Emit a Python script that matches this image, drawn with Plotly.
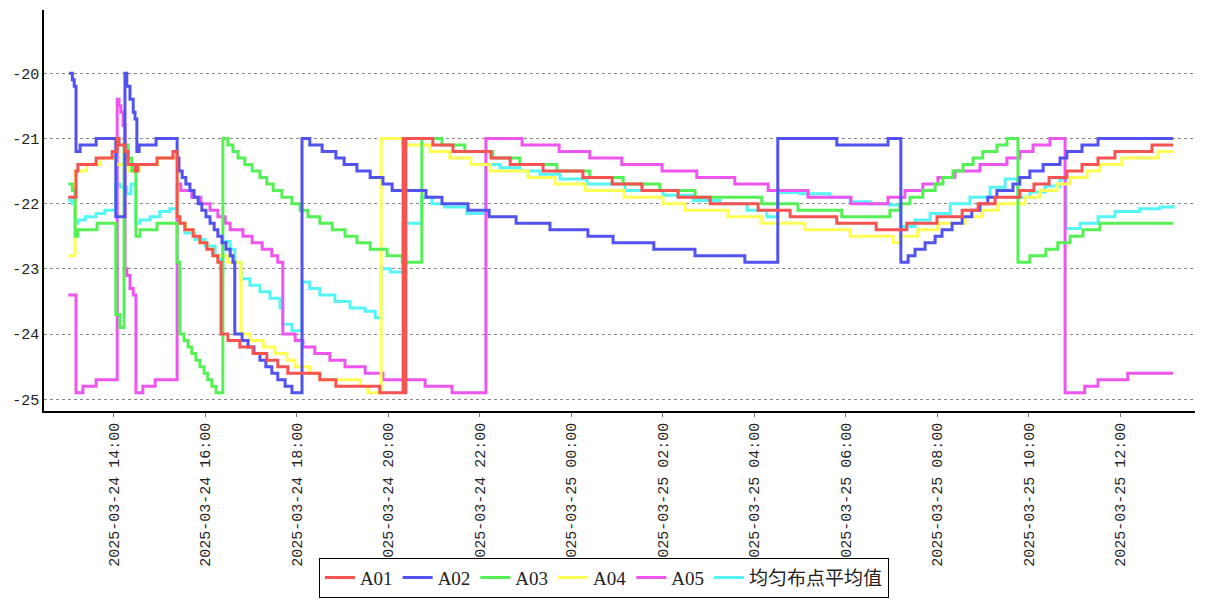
import pandas as pd
import plotly.graph_objects as go

BASE = pd.Timestamp("2025-03-24 00:00")

# time of each step, in hours since 2025-03-24 00:00, and the value that starts there
A01_h = [13.00, 13.17, 13.21, 13.61, 13.96, 14.07, 14.11, 14.24, 14.31, 14.46, 14.52, 14.94, 15.29, 15.38, 15.44, 15.55,
         15.73, 15.88, 16.03, 16.16, 16.27, 16.34, 16.49, 16.75, 17.04, 17.34, 17.58, 17.80, 18.50, 18.85, 19.81, 20.32,
         20.35, 20.38, 20.97, 21.41, 22.24, 22.66, 23.38, 24.25, 24.89, 25.54, 26.33, 27.03, 28.08, 28.78, 29.80, 30.66,
         31.33, 31.99, 32.54, 32.89, 33.26, 33.80, 34.11, 34.44, 34.83, 35.16, 35.51, 35.88, 36.69, 37.15]
A01_v = [-21.9, -21.5, -21.4, -21.3, -21.2, -21.0, -21.1, -21.2, -21.4, -21.5, -21.4, -21.3, -21.2, -22.2, -22.3, -22.4,
         -22.5, -22.6, -22.7, -22.8, -22.9, -24.0, -24.1, -24.2, -24.3, -24.4, -24.5, -24.6, -24.7, -24.8, -24.9, -21.0,
         -24.9, -21.0, -21.1, -21.2, -21.3, -21.4, -21.5, -21.6, -21.7, -21.8, -21.9, -22.0, -22.1, -22.2, -22.3, -22.4,
         -22.3, -22.2, -22.1, -22.0, -21.9, -21.8, -21.7, -21.6, -21.5, -21.4, -21.3, -21.2, -21.1, -21.1]

A02_h = [13.02, 13.09, 13.13, 13.17, 13.26, 13.61, 14.04, 14.24, 14.28, 14.35, 14.42, 14.46, 14.50, 14.55, 14.92, 15.38,
         15.42, 15.49, 15.57, 15.66, 15.75, 15.84, 15.92, 16.01, 16.10, 16.19, 16.27, 16.36, 16.45, 16.54, 16.60, 16.64,
         16.80, 16.93, 17.06, 17.19, 17.32, 17.45, 17.58, 17.74, 17.89, 18.11, 18.28, 18.55, 18.85, 19.03, 19.31, 19.60,
         19.88, 20.08, 20.82, 21.17, 21.74, 22.20, 22.79, 23.53, 24.36, 24.91, 25.80, 26.70, 27.79, 28.51, 29.80, 30.92,
         31.20, 31.36, 31.51, 31.73, 31.95, 32.10, 32.32, 32.54, 32.75, 32.93, 33.10, 33.30, 33.65, 33.80, 34.02, 34.31,
         34.68, 34.83, 35.16, 35.51, 37.15]
A02_v = [-20.0, -20.1, -20.2, -21.2, -21.1, -21.0, -22.2, -20.0, -20.2, -20.4, -20.6, -20.7, -21.2, -21.1, -21.0, -21.3,
         -21.5, -21.6, -21.7, -21.8, -21.9, -22.0, -22.1, -22.2, -22.3, -22.4, -22.5, -22.6, -22.7, -22.8, -22.9, -24.0,
         -24.1, -24.2, -24.3, -24.4, -24.5, -24.6, -24.7, -24.8, -24.9, -21.0, -21.1, -21.2, -21.3, -21.4, -21.5, -21.6,
         -21.7, -21.8, -21.9, -22.0, -22.1, -22.2, -22.3, -22.4, -22.5, -22.6, -22.7, -22.8, -22.9, -21.0, -21.1, -21.0,
         -22.9, -22.8, -22.7, -22.6, -22.5, -22.4, -22.3, -22.2, -22.1, -22.0, -21.9, -21.8, -21.7, -21.6, -21.5, -21.4,
         -21.3, -21.2, -21.1, -21.0, -21.0]

A03_h = [13.00, 13.09, 13.15, 13.21, 13.63, 14.04, 14.13, 14.22, 14.31, 14.39, 14.48, 14.57, 14.94, 15.38, 15.44, 15.53,
         15.62, 15.70, 15.79, 15.88, 15.97, 16.05, 16.14, 16.23, 16.38, 16.49, 16.60, 16.71, 16.86, 17.02, 17.19, 17.34,
         17.48, 17.67, 17.89, 18.07, 18.24, 18.50, 18.77, 19.05, 19.31, 19.60, 19.97, 20.30, 20.73, 21.17, 21.67, 22.28,
         22.87, 23.68, 24.40, 25.13, 25.93, 26.70, 28.16, 28.95, 29.91, 30.96, 31.18, 31.40, 31.68, 31.95, 32.12, 32.34,
         32.56, 32.78, 32.99, 33.30, 33.52, 33.76, 34.02, 34.37, 34.63, 34.90, 35.18, 35.55, 37.15]
A03_v = [-21.7, -21.8, -22.5, -22.4, -22.3, -23.7, -23.9, -21.1, -21.3, -21.5, -22.5, -22.4, -22.3, -22.9, -24.0, -24.1,
         -24.2, -24.3, -24.4, -24.5, -24.6, -24.7, -24.8, -24.9, -21.0, -21.1, -21.2, -21.3, -21.4, -21.5, -21.6, -21.7,
         -21.8, -21.9, -22.0, -22.1, -22.2, -22.3, -22.4, -22.5, -22.6, -22.7, -22.8, -22.9, -21.0, -21.1, -21.2, -21.3,
         -21.4, -21.5, -21.6, -21.7, -21.8, -21.9, -22.0, -22.1, -22.2, -22.1, -22.0, -21.9, -21.8, -21.7, -21.6, -21.5,
         -21.4, -21.3, -21.2, -21.1, -21.0, -22.9, -22.8, -22.7, -22.6, -22.5, -22.4, -22.3, -22.3]

A04_h = [13.00, 13.15, 13.40, 13.70, 14.04, 14.30, 14.55, 14.95, 15.38, 15.44, 15.57, 15.73, 15.88, 16.03, 16.16, 16.49,
         16.78, 16.97, 17.26, 17.52, 17.78, 17.96, 18.28, 18.50, 19.38, 19.55, 19.84, 20.30, 20.91, 21.34, 21.80, 22.22,
         23.05, 23.64, 24.30, 25.15, 26.00, 26.48, 27.42, 28.16, 29.10, 30.09, 31.03, 31.18, 31.57, 32.01, 32.60, 32.97,
         33.32, 33.91, 34.24, 34.61, 34.90, 35.27, 35.55, 36.03, 36.82, 37.15]
A04_v = [-22.8, -21.5, -21.4, -21.3, -21.4, -21.5, -21.4, -21.3, -22.2, -22.3, -22.4, -22.5, -22.6, -22.7, -22.8, -22.9,
         -24.0, -24.1, -24.2, -24.3, -24.4, -24.5, -24.6, -24.7, -24.8, -24.9, -21.0, -21.1, -21.2, -21.3, -21.4, -21.5,
         -21.6, -21.7, -21.8, -21.9, -22.0, -22.1, -22.2, -22.3, -22.4, -22.5, -22.6, -22.5, -22.4, -22.3, -22.2, -22.1,
         -22.0, -21.9, -21.8, -21.7, -21.6, -21.5, -21.4, -21.3, -21.2, -21.2]

A05_h = [13.00, 13.17, 13.32, 13.61, 14.07, 14.11, 14.15, 14.20, 14.24, 14.28, 14.35, 14.42, 14.48, 14.63, 14.90, 15.38,
         15.46, 15.70, 15.90, 16.10, 16.27, 16.43, 16.54, 16.82, 17.02, 17.24, 17.45, 17.58, 17.69, 17.96, 18.13, 18.39,
         18.72, 19.05, 19.49, 19.88, 20.80, 21.39, 22.13, 22.92, 23.73, 24.40, 25.10, 25.98, 26.74, 27.57, 28.30, 29.17,
         30.11, 30.92, 31.29, 31.68, 32.01, 32.38, 32.93, 33.52, 33.80, 34.09, 34.46, 34.79, 35.22, 35.51, 36.16, 37.15]
A05_v = [-23.4, -24.9, -24.8, -24.7, -20.4, -20.5, -20.6, -20.8, -23.0, -23.1, -23.3, -23.4, -24.9, -24.8, -24.7, -21.7,
         -21.8, -21.9, -22.0, -22.1, -22.2, -22.3, -22.4, -22.5, -22.6, -22.7, -22.8, -22.9, -24.0, -24.1, -24.2, -24.3,
         -24.4, -24.5, -24.6, -24.7, -24.8, -24.9, -21.0, -21.1, -21.2, -21.3, -21.4, -21.5, -21.6, -21.7, -21.8, -21.9,
         -22.0, -21.9, -21.8, -21.7, -21.6, -21.5, -21.4, -21.3, -21.2, -21.1, -21.0, -24.9, -24.8, -24.7, -24.6, -24.6]

AVG_h = [13.00, 13.09, 13.15, 13.21, 13.37, 13.61, 13.80, 14.04, 14.13, 14.28, 14.37, 14.48, 14.57, 14.79, 15.00, 15.22,
         15.38, 15.55, 15.77, 15.99, 16.21, 16.34, 16.38, 16.54, 16.64, 16.78, 16.97, 17.19, 17.41, 17.63, 17.69, 17.89,
         18.11, 18.28, 18.50, 18.83, 19.16, 19.49, 19.71, 19.84, 20.04, 20.32, 20.73, 20.95, 21.23, 21.71, 22.13, 22.44,
         22.87, 23.31, 23.75, 24.34, 25.17, 26.00, 26.66, 27.25, 27.84, 28.27, 28.51, 29.00, 29.65, 30.09, 30.53, 30.96,
         31.20, 31.51, 31.84, 32.28, 32.71, 33.15, 33.48, 33.76, 34.02, 34.35, 34.68, 34.81, 35.12, 35.51, 35.88, 36.42,
         36.86, 37.15]
AVG_v = [-21.95, -22.0, -22.3, -22.25, -22.2, -22.15, -22.1, -21.7, -21.75, -21.85, -21.7, -22.3, -22.25, -22.2, -22.12,
         -22.08, -22.3, -22.45, -22.55, -22.65, -22.8, -23.05, -22.58, -22.7, -22.9, -23.15, -23.25, -23.35, -23.45, -23.6,
         -23.85, -23.95, -23.2, -23.3, -23.4, -23.5, -23.6, -23.65, -23.75, -23.0, -23.05, -22.3, -21.9, -22.0, -22.05,
         -22.15, -21.4, -21.45, -21.5, -21.55, -21.62, -21.7, -21.8, -21.87, -21.95, -22.0, -22.1, -22.2, -21.83, -21.85,
         -21.9, -21.97, -22.0, -22.02, -22.35, -22.25, -22.15, -22.0, -21.9, -21.75, -21.62, -21.9, -21.82, -21.73, -21.62,
         -22.38, -22.3, -22.2, -22.12, -22.08, -22.05, -22.02]

NAMES = ["A01", "A02", "A03", "A04", "A05", "均匀布点平均值"]
COLORS = ["#f55252", "#5252ee", "#55f055", "#ffff55", "#ee55ee", "#55f5f5"]
SERIES = [(A01_h, A01_v), (A02_h, A02_v), (A03_h, A03_v), (A04_h, A04_v), (A05_h, A05_v), (AVG_h, AVG_v)]

TICK_HOURS = list(range(14, 37, 2))
X_RANGE_H = [12.47, 37.63]
Y_RANGE = [-25.18, -19.03]
Y_TICKS = [-20, -21, -22, -23, -24, -25]


def to_time(hours):
    return BASE + pd.to_timedelta(pd.Series(hours, dtype=float), unit="h")


fig = go.Figure()
order = [5, 4, 3, 2, 1, 0]  # draw the average first, A01 on top
for i in order:
    h, v = SERIES[i]
    assert len(h) == len(v), NAMES[i]
    fig.add_trace(go.Scatter(
        x=to_time(h), y=v, mode="lines", name=NAMES[i], legendrank=i + 1,
        line=dict(color=COLORS[i], width=3, shape="hv"),
    ))

# the page body keeps its default 8px margin, so the figure is sized to sit in the window
tick_times = to_time(TICK_HOURS)
fig.update_layout(
    width=1199, height=592, template="none",
    paper_bgcolor="white", plot_bgcolor="white",
    margin=dict(l=36, r=12, t=2, b=189, pad=0),
    font=dict(family="Liberation Mono, Noto Sans CJK SC", size=15, color="#222"),
    showlegend=True,
    legend=dict(
        orientation="h", xref="container", yref="container",
        x=0.497, xanchor="center", y=0.004, yanchor="bottom",
        bordercolor="#000", borderwidth=1, bgcolor="white",
        font=dict(family="Liberation Serif, Noto Sans CJK SC", size=19, color="#222"),
        itemwidth=30, tracegroupgap=0,
    ),
    xaxis=dict(
        type="date", range=list(to_time(X_RANGE_H)), automargin=False,
        tickvals=list(tick_times), ticktext=[t.strftime("%Y-%m-%d %H:%M") for t in tick_times],
        tickangle=-90, ticks="outside", ticklen=4, tickcolor="#777",
        showgrid=False, zeroline=False, showline=True, linecolor="#000", linewidth=1.5,
        tickfont=dict(family="Liberation Mono", size=15, color="#222"),
    ),
    yaxis=dict(
        range=Y_RANGE, automargin=False,
        tickvals=Y_TICKS, ticktext=[str(t) for t in Y_TICKS], ticks="",
        showgrid=True, gridcolor="#888", griddash="dot", gridwidth=1,
        zeroline=False, showline=True, linecolor="#000", linewidth=1.5,
        tickfont=dict(family="Liberation Mono", size=15, color="#222"),
    ),
)

fig.write_html("out.html")
